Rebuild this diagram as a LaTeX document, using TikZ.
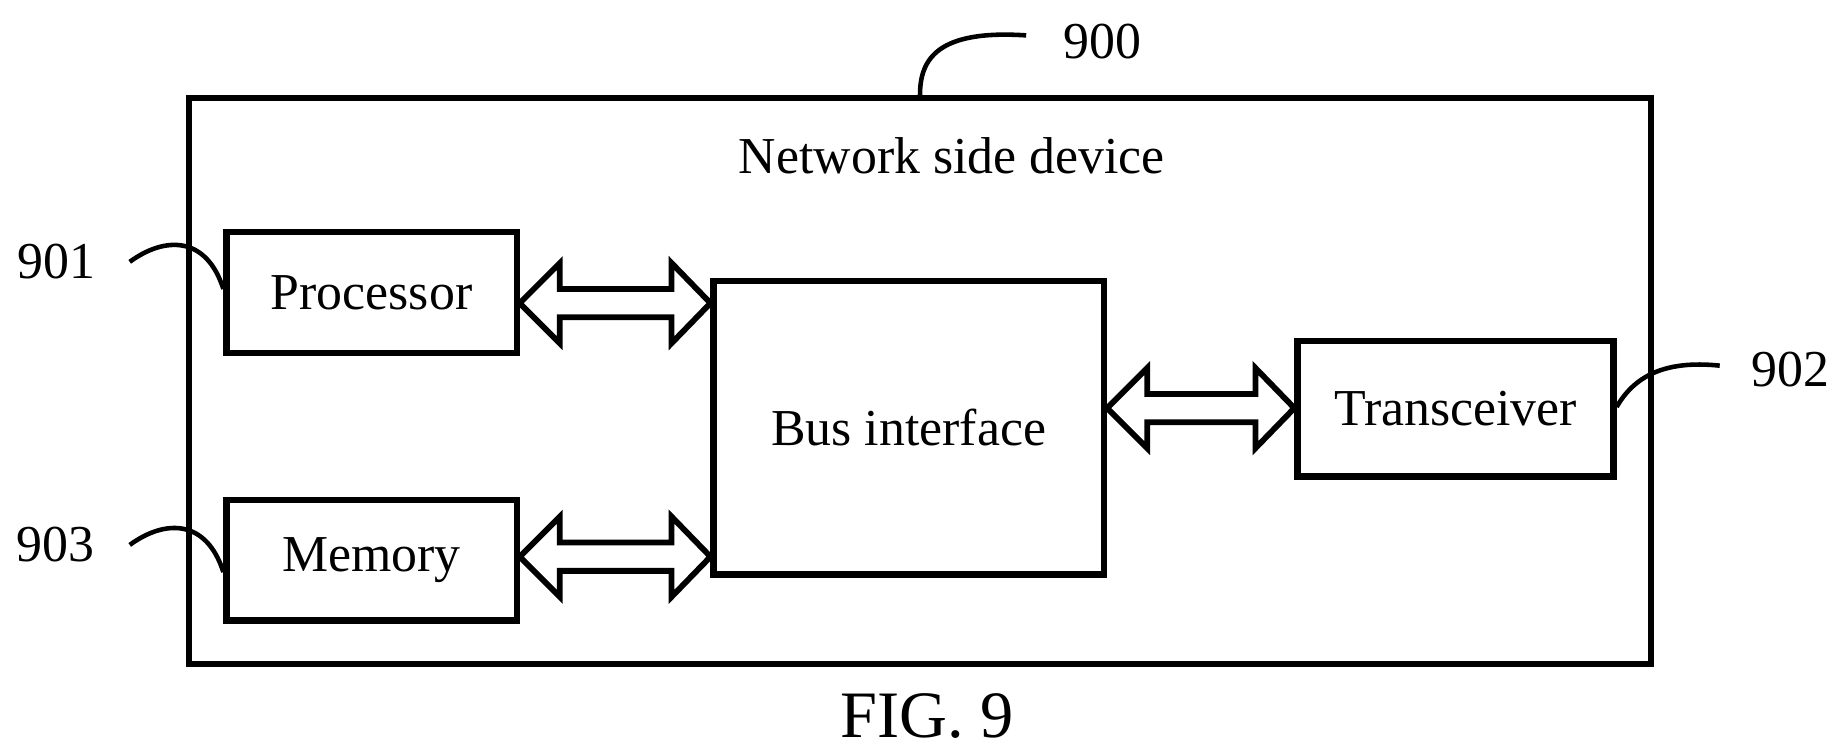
\documentclass[tikz,border=0pt]{standalone}
\usepackage{fontspec}
\setmainfont{Liberation Serif}
\usetikzlibrary{calc}
\begin{document}
\begin{tikzpicture}[
  box/.style={draw,line width=1.5pt,inner sep=0pt},
  lbl/.style={font=\fontsize{12.5}{15}\selectfont},
  lead/.style={line width=1.1pt}]
\useasboundingbox (0,0) rectangle (15.6,6.4);
\newcommand{\dblarr}[2]{%
  \draw[line width=1.4pt,line join=miter] (#1) -- ($(#1)+(0.34,0.34)$) -- ($(#1)+(0.34,0.12)$) -- ($(#2)+(-0.33,0.12)$) -- ($(#2)+(-0.33,0.34)$) -- (#2) -- ($(#2)+(-0.33,-0.34)$) -- ($(#2)+(-0.33,-0.12)$) -- ($(#1)+(0.34,-0.12)$) -- ($(#1)+(0.34,-0.34)$) -- cycle;}
\node[box,minimum width=12.4cm,minimum height=4.8cm] (dev) at (7.8,3.17) {};
\node[lbl] (title) at (8.07,5.08) {Network side device};
\node[box,minimum width=2.46cm,minimum height=1.02cm,lbl] (proc) at (3.15,3.92) {Processor};
\node[box,minimum width=2.46cm,minimum height=1.02cm,lbl] (mem) at (3.15,1.65) {Memory};
\node[box,minimum width=3.31cm,minimum height=2.49cm,lbl] (bus) at (7.705,2.775) {Bus interface};
\node[box,minimum width=2.68cm,minimum height=1.15cm,lbl] (trx) at (12.34,2.935) {Transceiver};
\coordinate (p1) at (proc.east |- 0,3.83);
\coordinate (p2) at (bus.west |- 0,3.83);
\coordinate (m1) at (mem.east |- 0,1.68);
\coordinate (m2) at (bus.west |- 0,1.68);
\coordinate (t1) at (bus.east |- 0,2.94);
\coordinate (t2) at (trx.west |- 0,2.94);
\dblarr{p1}{p2}
\dblarr{m1}{m2}
\dblarr{t1}{t2}
\node[lbl] (n900) at (9.35,6.05) {900};
\node[lbl] (n901) at (0.48,4.18) {901};
\node[lbl] (n903) at (0.47,1.78) {903};
\node[lbl] (n902) at (15.18,3.27) {902};
\coordinate (c900) at (dev.north -| 7.8,0);
\coordinate (c901) at (proc.west |- 0,3.95);
\coordinate (c903) at (mem.west |- 0,1.55);
\coordinate (c902) at (trx.east |- 0,2.95);
\draw[lead] (c900) .. controls (7.8,5.9) and (7.95,6.15) .. (8.7,6.1);
\draw[lead] (1.1,4.18) .. controls (1.4,4.4) and (1.75,4.4) .. (c901);
\draw[lead] (1.1,1.78) .. controls (1.4,2.0) and (1.75,2.0) .. (c903);
\draw[lead] (c902) .. controls (13.85,3.2) and (14.1,3.35) .. (14.58,3.3);
\node[font=\fontsize{16}{19}\selectfont] (fig) at (7.86,0.33) {FIG. 9};
\end{tikzpicture}
\end{document}
